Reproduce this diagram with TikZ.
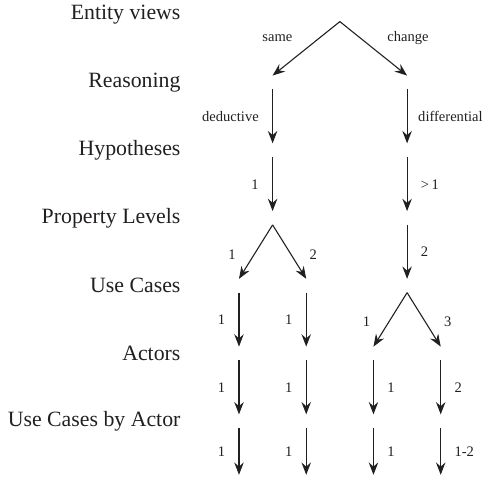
\documentclass[tikz,border=0pt]{standalone}
\usepackage{fontspec}
\setmainfont{Liberation Serif}
\usepackage{tikz}
\usetikzlibrary{arrows.meta}
\definecolor{ink}{RGB}{35,31,32}
\tikzset{
  hub/.style={inner sep=0pt, minimum width=0pt, minimum height=7.2pt},
  level/.style={anchor=east, inner sep=0pt, font=\large, text=ink},
  flow/.style={draw=ink, line width=0.6pt,
               -{Stealth[length=6.8pt, width=5.2pt, inset=2.3pt]}},
  tag/.style={font=\footnotesize, text=ink, text height=5.5pt, text depth=0pt},
}

\begin{document}
\begin{tikzpicture}[x=0.65cm, y=-1.31cm]
  \useasboundingbox (-7.108,-0.217) rectangle (7.256,6.970);

  %% ── level names (left column) ──
  \node[level] (lvEV) at (-1.73,0) {Entity views};
  \node[level] (lvRS) at (-1.73,1) {Reasoning};
  \node[level] (lvHY) at (-1.73,2) {Hypotheses};
  \node[level] (lvPL) at (-1.73,3) {Property Levels};
  \node[level] (lvUC) at (-1.73,4) {Use Cases};
  \node[level] (lvAC) at (-1.73,5) {Actors};
  \node[level] (lvUA) at (-1.73,6) {Use Cases by Actor};

  %% ── hubs (gap between incoming and outgoing arrows) ──
  \node[hub] (top) at (3,0) {};
  \node[hub] (rsD) at (1,1) {};
  \node[hub] (rsF) at (5,1) {};
  \node[hub] (hyD) at (1,2) {};
  \node[hub] (hyF) at (5,2) {};
  \node[hub] (plD) at (1,3) {};
  \node[hub] (plF) at (5,3) {};
  \node[hub] (ucA) at (0,4) {};
  \node[hub] (ucB) at (2,4) {};
  \node[hub] (ucC) at (5,4) {};
  \node[hub] (acA) at (0,5) {};
  \node[hub] (acB) at (2,5) {};
  \node[hub] (acC) at (4,5) {};
  \node[hub] (acD) at (6,5) {};
  \node[hub] (uaA) at (0,6) {};
  \node[hub] (uaB) at (2,6) {};
  \node[hub] (uaC) at (4,6) {};
  \node[hub] (uaD) at (6,6) {};
  \coordinate (endA) at (0,6.79);
  \coordinate (endB) at (2,6.79);
  \coordinate (endC) at (4,6.79);
  \coordinate (endD) at (6,6.79);

  %% ── entity views split ──
  \draw[flow] (top.south) -- node[tag, above left, xshift=-4pt]{same} (rsD.north);
  \draw[flow] (top.south) -- node[tag, above right, xshift=4pt]{change} (rsF.north);

  %% ── reasoning / hypotheses ──
  \draw[flow] (rsD.south) -- node[tag, left=4pt]{deductive} (hyD.north);
  \draw[flow] (rsF.south) -- node[tag, right=2.5pt]{differential} (hyF.north);
  \draw[flow] (hyD.south) -- node[tag, left=4pt]{1} (plD.north);
  \draw[flow] (hyF.south) -- node[tag, right=4pt]{>\,1} (plF.north);

  %% ── property levels ──
  \draw[flow] (plD.south) -- node[tag, left=7.5pt, yshift=-1.5pt]{1} (ucA.north);
  \draw[flow] (plD.south) -- node[tag, right=7.5pt, yshift=-1.5pt]{2} (ucB.north);
  \draw[flow] (plF.south) -- node[tag, right=4pt]{2} (ucC.north);

  %% ── use cases ──
  \draw[flow] (ucA.south) -- node[tag, left=4pt]{1} (acA.north);
  \draw[flow] (ucB.south) -- node[tag, left=4pt]{1} (acB.north);
  \draw[flow] (ucC.south) -- node[tag, left=7.5pt, yshift=-1pt]{1} (acC.north);
  \draw[flow] (ucC.south) -- node[tag, right=7.5pt, yshift=-1pt]{3} (acD.north);

  %% ── actors ──
  \draw[flow] (acA.south) -- node[tag, left=4pt]{1} (uaA.north);
  \draw[flow] (acB.south) -- node[tag, left=4pt]{1} (uaB.north);
  \draw[flow] (acC.south) -- node[tag, right=4pt]{1} (uaC.north);
  \draw[flow] (acD.south) -- node[tag, right=4pt]{2} (uaD.north);

  %% ── use cases by actor ──
  \draw[flow] (uaA.south) -- node[tag, left=4pt]{1} (endA);
  \draw[flow] (uaB.south) -- node[tag, left=4pt]{1} (endB);
  \draw[flow] (uaC.south) -- node[tag, right=4pt]{1} (endC);
  \draw[flow] (uaD.south) -- node[tag, right=4pt]{1-2} (endD);
\end{tikzpicture}
\end{document}
